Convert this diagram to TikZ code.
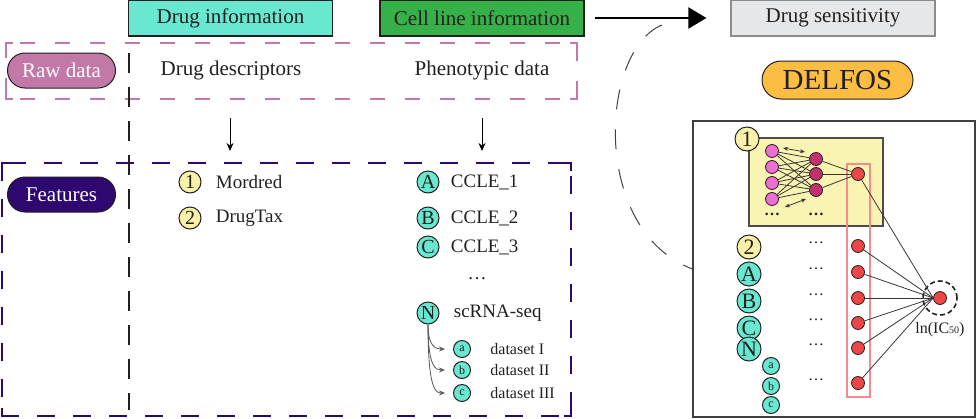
\documentclass[tikz,border=0pt]{standalone}
\usepackage{fontspec}
\setmainfont{Liberation Serif}
\usetikzlibrary{arrows.meta,positioning}
\definecolor{drugcol}{HTML}{68E8D0}
\definecolor{cellcol}{HTML}{36B14A}
\definecolor{senscol}{HTML}{E6E7E8}
\definecolor{delfcol}{HTML}{FBBE43}
\definecolor{rawcol}{HTML}{C279A8}
\definecolor{featcol}{HTML}{2E0870}
\definecolor{numcol}{HTML}{F9F2A8}
\definecolor{boxyel}{HTML}{FAF4B2}
\definecolor{incol}{HTML}{EE6FD2}
\definecolor{hidcol}{HTML}{C2306F}
\definecolor{outcol}{HTML}{EB4747}
\definecolor{rectcol}{HTML}{F48C8C}
\definecolor{inkcol}{HTML}{231F20}
\tikzstyle{header}=[draw=inkcol, line width=0.6pt, minimum width=102pt, minimum height=18pt, inner sep=0pt]
\tikzstyle{pill}=[draw=inkcol, line width=0.5pt, rounded corners=8.75pt, minimum width=54pt, minimum height=17.5pt, inner sep=0pt, text=white]
\tikzstyle{lbl}=[inner sep=0pt, font=\fontsize{9.5}{11}\selectfont]
\tikzstyle{numc}=[circle, draw=inkcol, line width=0.5pt, fill=numcol, minimum size=11pt, inner sep=0pt, font=\fontsize{10}{11}\selectfont]
\tikzstyle{letc}=[numc, fill=drugcol]
\tikzstyle{smallc}=[letc, minimum size=8.5pt, font=\fontsize{6}{7}\selectfont]
\tikzstyle{bigc}=[minimum size=12pt, font=\fontsize{11}{12}\selectfont]
\tikzstyle{unit}=[circle, draw=inkcol, line width=0.4pt, minimum size=6.5pt, inner sep=0pt]
\tikzstyle{web}=[line width=0.4pt, draw=inkcol!90]
\tikzstyle{bigarrow}=[line width=1pt, -{Triangle[length=9pt,width=10.5pt]}, shorten <=5pt, shorten >=12pt]
\tikzstyle{down}=[line width=0.5pt, -{Stealth[length=4pt,width=3.5pt]}]
\tikzstyle{branch}=[line width=0.4pt, draw=inkcol!75, -{Stealth[length=3pt,width=2.5pt]}, shorten >=4pt]

\begin{document}
\begin{tikzpicture}[x=0.5pt,y=-0.5pt,font=\fontsize{10.5}{12}\selectfont,text=inkcol]
\useasboundingbox (0,0) rectangle (977,418);

% top row
\node (drug) [header, fill=drugcol] at (230.5,18) {Drug information};
\node (cell) [header, fill=cellcol] at (482,18) {Cell line information};
\node (sens) [header, fill=senscol, draw=black!45] at (833,18) {Drug sensitivity};
\draw[bigarrow] (cell) -- (sens);
\node (delfos) [draw=inkcol, line width=0.5pt, fill=delfcol, rounded corners=9.5pt, minimum width=75.5pt, minimum height=19pt, inner sep=0pt, font=\fontsize{14.5}{16}\selectfont] at (837.5,80) {DELFOS};

% raw data frame
\draw[rawcol, line width=1pt, dash pattern=on 7.5pt off 10pt] (6,43) rectangle (577,99);
\draw[rawcol, line width=1pt] (6,51) |- (13,43) (570,43) -| (577,51) (577,91) |- (570,99) (13,99) -| (6,91);
\node (raw) [pill, fill=rawcol] at (61.5,70.5) {Raw data};
\node (desc) at (231,70) {Drug descriptors};
\node (pheno) at (482,70) {Phenotypic data};

% features frame
\draw[featcol, line width=1pt, dash pattern=on 9pt off 9pt] (2,163) rectangle (571,416);
\draw[featcol, line width=1pt] (2,171) |- (9,163) (564,163) -| (571,171) (571,408) |- (564,416) (9,416) -| (2,408);
\node (feat) [pill, fill=featcol] at (61.5,194.5) {Features};
\draw[inkcol, line width=1.1pt, dash pattern=on 10pt off 7pt] (129,53) -- (129,410);

\coordinate (d1) at (230,118);
\coordinate (d2) at (230,151);
\coordinate (p1) at (482,118);
\coordinate (p2) at (482,151);
\draw[down] (d1) -- (d2);
\draw[down] (p1) -- (p2);

% drug features
\node (m1) [numc] at (190,182) {1};
\node [lbl, right=7pt of m1] {Mordred};
\node (m2) [numc] at (190,218) {2};
\node [lbl, right=7pt of m2] {DrugTax};

% cell line features
\node (ca) [letc] at (428,182) {A};
\node [lbl, right=5.5pt of ca] {CCLE\_1};
\node (cb) [letc] at (428,218) {B};
\node [lbl, right=5.5pt of cb] {CCLE\_2};
\node (cc) [letc] at (428,247) {C};
\node [lbl, right=5.5pt of cc] {CCLE\_3};
\node (cdots) [lbl] at (477,279) {\dots};
\node (cn) [letc] at (428,313) {N};
\node [lbl, right=7pt of cn] {scRNA-seq};
\foreach \y/\l/\t in {349/a/I,370/b/II,393/c/III}{
  \node (s\l) [smallc] at (462,\y) {\l};
  \node [lbl, font=\fontsize{8}{9}\selectfont, right=9.5pt of s\l] {dataset \t};
  \draw[branch] (cn.south) .. controls (428,\y-2) and (436,\y) .. (s\l.west);
}

% DELFOS model
\node (frame) [draw=black!75, line width=0.6pt, minimum width=141pt, minimum height=148pt, inner sep=0pt] at (834,269) {};
\coordinate (loopstart) at (662,25);
\draw[inkcol!85, line width=0.5pt, dash pattern=on 10pt off 10pt] (loopstart) .. controls (600,50) and (590,230) .. (frame.west);

\node (nnbox) [draw=black!70, line width=0.6pt, fill=boxyel, minimum width=67pt, minimum height=44pt, inner sep=0pt] at (816,182) {};
\draw[rectcol, line width=0.6pt] (847,164) rectangle (870,397);
\foreach \y [count=\i] in {151,167,183,199}
  \node (in\i) [unit, fill=incol] at (772,\y) {};
\foreach \y [count=\j] in {159,174,190}
  \node (hid\j) [unit, fill=hidcol] at (816,\y) {};
\node (o1) [unit, fill=outcol] at (858,174) {};
\foreach \i in {1,...,4}
  \foreach \j in {1,...,3}
    \draw[web] (in\i) -- (hid\j);
\foreach \j in {1,...,3}
  \draw[web] (hid\j) -- (o1);
\coordinate (w1) at (783,148);
\coordinate (w2) at (805,152);
\coordinate (w3) at (785,207);
\coordinate (w4) at (806,199);
\draw[web, {Stealth[length=2.5pt,width=2pt]}-{Stealth[length=2.5pt,width=2pt]}] (w1) -- (w2);
\draw[web, {Stealth[length=2.5pt,width=2pt]}-{Stealth[length=2.5pt,width=2pt]}] (w3) -- (w4);
\node [lbl, font=\fontsize{8}{9}\selectfont\bfseries] at (772,214) {\dots};
\node [lbl, font=\fontsize{8}{9}\selectfont\bfseries] at (816,214) {\dots};
\node (k1) [numc, bigc] at (747,139) {1};

\node (k2) [numc, bigc] at (749,247) {2};
\foreach \y/\l in {274/A,301/B,328/C,349/N}
  \node (k\l) [letc, bigc] at (749,\y) {\l};
\foreach \y/\l in {366/a,386/b,405/c}
  \node (t\l) [smallc] at (771,\y) {\l};
\foreach \y [count=\i from 2] in {246,272,298,323,348,383}{
  \node (o\i) [unit, fill=outcol] at (858,\y) {};
  \node [lbl, font=\fontsize{8}{9}\selectfont] at (816,\y-3) {\dots};
}
\node (ic) [unit, fill=outcol] at (940,298) {};
\node (ring) [circle, draw=inkcol, line width=0.8pt, dash pattern=on 2.5pt off 1.5pt, minimum size=17pt, inner sep=0pt] at (940,298) {};
\foreach \i in {1,...,7}
  \draw[web] (o\i) -- (ic.west);
\node (iclbl) [lbl, font=\fontsize{8}{9}\selectfont] at (940,330) {ln(IC{\fontsize{5}{6}\selectfont 50})};
\end{tikzpicture}
\end{document}
